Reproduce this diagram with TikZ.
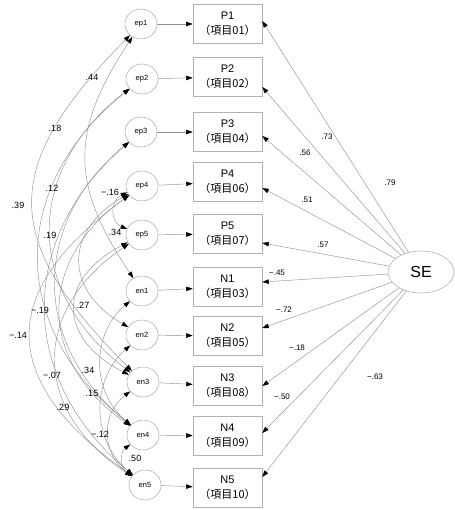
\documentclass[tikz,border=0pt]{standalone}
\usepackage{fontspec}
\setmainfont{Liberation Sans}
\newfontfamily\cjk{Noto Sans CJK JP}
\usetikzlibrary{arrows.meta,shapes.geometric}
\begin{document}
\begin{tikzpicture}[x=1pt,y=-1pt,
  errc/.style={ellipse,draw=gray!70,line width=0.5pt,minimum width=32pt,minimum height=30pt,inner sep=0pt,font=\fontsize{7.5}{8}\selectfont},
  item/.style={rectangle,draw=gray!60,line width=0.6pt,minimum width=69pt,minimum height=39pt,inner sep=0pt,align=center,font=\fontsize{11}{15}\selectfont},
  factor/.style={ellipse,draw=gray!70,line width=0.5pt,minimum width=66pt,minimum height=42pt,inner sep=0pt,font=\fontsize{16}{18}\selectfont},
  reg/.style={draw=gray!85,line width=0.45pt,-{Triangle[length=6.5pt,width=4.5pt,color=black]}},
  cov/.style={draw=gray!85,line width=0.45pt,{Triangle[length=6.5pt,width=4.5pt,color=black]}-{Triangle[length=6.5pt,width=4.5pt,color=black]}},
  est/.style={font=\fontsize{8}{9}\selectfont,inner sep=1pt},
  cest/.style={font=\fontsize{9}{10}\selectfont,inner sep=1pt}]
\useasboundingbox (0,0) rectangle (454,510);

% observed items
\node[item] (P1) at (227.5,24)  {P1\\{\cjk （項目01）}};
\node[item] (P2) at (227.5,77)  {P2\\{\cjk （項目02）}};
\node[item] (P3) at (227.5,132) {P3\\{\cjk （項目04）}};
\node[item] (P4) at (227.5,182) {P4\\{\cjk （項目06）}};
\node[item] (P5) at (227.5,234) {P5\\{\cjk （項目07）}};
\node[item] (N1) at (227.5,287) {N1\\{\cjk （項目03）}};
\node[item] (N2) at (227.5,336) {N2\\{\cjk （項目05）}};
\node[item] (N3) at (227.5,386) {N3\\{\cjk （項目08）}};
\node[item] (N4) at (227.5,436) {N4\\{\cjk （項目09）}};
\node[item] (N5) at (227.5,488) {N5\\{\cjk （項目10）}};

% error terms
\node[errc] (ep1) at (141,24)  {ep1};
\node[errc] (ep2) at (142,79)  {ep2};
\node[errc] (ep3) at (141,132) {ep3};
\node[errc] (ep4) at (142,186) {ep4};
\node[errc] (ep5) at (142,235) {ep5};
\node[errc] (en1) at (142,291) {en1};
\node[errc] (en2) at (142,335) {en2};
\node[errc] (en3) at (143,382) {en3};
\node[errc] (en4) at (143,435) {en4};
\node[errc] (en5) at (145,485) {en5};

% latent factor
\node[factor] (SE) at (421,272) {SE};

% error -> item
\foreach \e/\i in {ep1/P1,ep2/P2,ep3/P3,ep4/P4,ep5/P5,en1/N1,en2/N2,en3/N3,en4/N4,en5/N5}
  \draw[reg] (\e) -- (\i);

% factor loadings
\draw[reg] (SE) -- ([yshift=3pt]P1.east);
\draw[reg] (SE) -- ([yshift=-10pt]P2.east);
\draw[reg] (SE) -- ([yshift=-4pt]P3.east);
\draw[reg] (SE) -- ([yshift=-6pt]P4.east);
\draw[reg] (SE) -- ([yshift=-9pt]P5.east);
\draw[reg] (SE) -- ([yshift=5pt]N1.east);
\draw[reg] (SE) -- ([yshift=8pt]N2.east);
\draw[reg] (SE) -- (N3.east);
\draw[reg] (SE) -- ([yshift=3pt]N4.east);
\draw[reg] (SE) -- ([yshift=11pt]N5.east);

\node[est] (l1) at (390,183) {.79};
\node[est] (l2) at (327,137) {.73};
\node[est] (l3) at (305,153) {.56};
\node[est] (l4) at (307,200) {.51};
\node[est] (l5) at (323,245) {.57};
\node[est] (l6) at (277,273) {−.45};
\node[est] (l7) at (284,310) {−.72};
\node[est] (l8) at (297,348) {−.18};
\node[est] (l9) at (282,397) {−.50};
\node[est] (l10) at (375,377) {−.63};

% error covariances
\draw[cov] (ep1) .. controls (0,167) and (0,239) .. (en3);
\draw[cov] (ep1) .. controls (70,131) and (70,184) .. (en1);
\draw[cov] (ep2) .. controls (8,186) and (8,328) .. (en4);
\draw[cov] (ep2) .. controls (24,170) and (24,291) .. (en3);
\draw[cov] (ep3) .. controls (31,223) and (31,344) .. (en4);
\draw[cov] (ep3) .. controls (17,238) and (17,379) .. (en5);
\draw[cov] (ep4) .. controls (-3,291) and (-3,380) .. (en5);
\draw[cov] (ep4) .. controls (37,261) and (37,360) .. (en4);
\draw[cov] (ep4) .. controls (64,231) and (64,290) .. (en2);
\draw[cov] (ep4) .. controls (110,200) and (110,222) .. (ep5);
\draw[cov] (ep5) .. controls (57,279) and (57,338) .. (en3);
\draw[cov] (ep5) .. controls (31,310) and (31,410) .. (en5);
\draw[cov] (en1) .. controls (91,334) and (91,392) .. (en4);
\draw[cov] (en2) .. controls (91,380) and (91,440) .. (en5);
\draw[cov] (en3) .. controls (101,413) and (101,454) .. (en5);
\draw[cov] (en4) .. controls (120,452) and (120,468) .. (en5);

\node[cest] (c1) at (92,77) {.44};
\node[cest] (c2) at (55,128) {.18};
\node[cest] (c3) at (52,188) {.12};
\node[cest] (c4) at (18,205) {.39};
\node[cest] (c5) at (50,235) {.19};
\node[cest] (c6) at (110,192) {−.16};
\node[cest] (c7) at (115,232) {.34};
\node[cest] (c8) at (40,310) {−.19};
\node[cest] (c9) at (83,305) {.27};
\node[cest] (c10) at (18,335) {−.14};
\node[cest] (c11) at (52,375) {−.07};
\node[cest] (c12) at (88,370) {.34};
\node[cest] (c13) at (92,393) {.15};
\node[cest] (c14) at (63,407) {.29};
\node[cest] (c15) at (100,434) {−.12};
\node[cest] (c16) at (135,458) {.50};
\end{tikzpicture}
\end{document}
